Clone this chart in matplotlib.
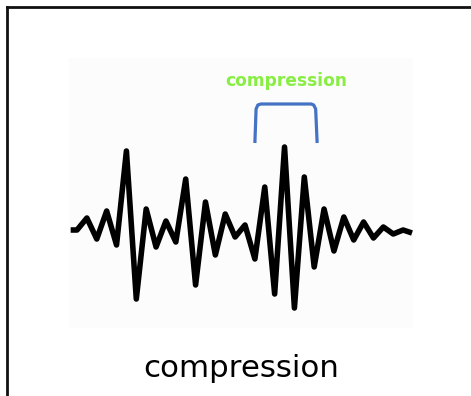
import matplotlib.pyplot as plt
from matplotlib.lines import Line2D

# sample index and amplitude of the waveform
wave_t = [-0.64, 0, 1, 2, 3, 4, 5, 6, 7, 8, 9, 10, 11, 12, 13, 14, 15, 16,
          17, 18, 19, 20, 21, 22, 23, 24, 25, 26, 27, 28, 29, 30, 31, 32,
          33, 33.9]
wave_amp = [0, 0, 12, -9, 19, -15, 79, -69, 21, -17, 9, -12, 51, -55, 28,
            -25, 16, -7, 5, -29, 43, -64, 83, -78, 53, -37, 21, -21, 13, -10,
            8, -8, 3, -4, 0, -3]

# bracket marking the compression zone
bracket_t = [18.0, 24.3]
bracket_amp = [87, 126]

label_top = "compression"
label_bottom = "compression"

W, H = 471, 396
fig = plt.figure(figsize=(W / 100, H / 100), dpi=100)
fig.patch.set_facecolor("white")

# the waveform picture
ax = fig.add_axes([69 / W, 1 - 328 / H, (413 - 69) / W, (328 - 58) / H])
ax.set_facecolor("#fcfcfc")
for s in ax.spines.values():
    s.set_visible(False)
ax.set_xticks([])
ax.set_yticks([])
ax.set_xlim(-0.81, 34.0)
ax.set_ylim(-98, 172)

ax.plot(wave_t, wave_amp, color="black", lw=4.0,
        solid_joinstyle="round", solid_capstyle="butt")

# bracket with slightly rounded top corners
t0, t1 = bracket_t
a0, a1 = bracket_amp
bx = [t0, t0 + 0.12, t0 + 0.3, t0 + 0.6, t1 - 0.6, t1 - 0.35, t1 - 0.15, t1]
by = [a0, a1 - 5, a1 - 1, a1, a1, a1 - 1, a1 - 5, a0]
ax.plot(bx, by, color="#4472c4", lw=2.3, solid_joinstyle="round",
        solid_capstyle="butt")

ax.text((t0 + t1) / 2 + 0.05, 144, label_top, color="#88ee44",
        fontsize=12.3, fontweight="bold", ha="center", va="baseline")

fig.text(241 / W, 1 - 377 / H, label_bottom, fontsize=22.2,
         ha="center", va="baseline", color="black")

# frame (left and top edges only)
fig.add_artist(Line2D([6.5 / W, 6.5 / W], [0, 1 - 6.5 / H],
                      color="#111111", lw=2.0, solid_capstyle="projecting"))
fig.add_artist(Line2D([6.5 / W, 1], [1 - 6.5 / H, 1 - 6.5 / H],
                      color="#111111", lw=2.0, solid_capstyle="projecting"))

fig.savefig("out.png", dpi=100)
